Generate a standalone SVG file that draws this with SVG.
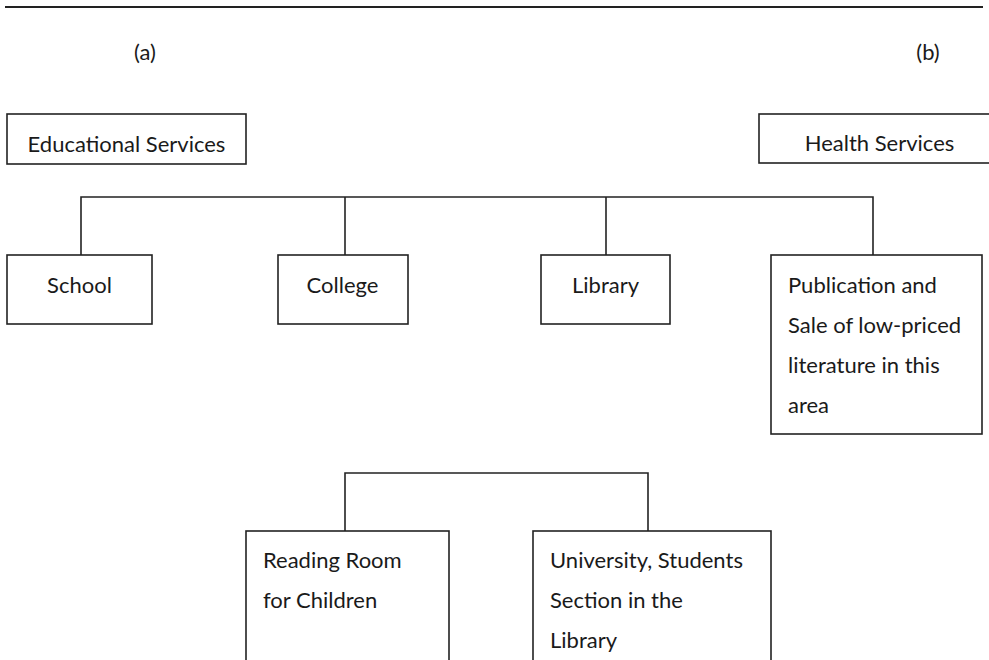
<svg xmlns="http://www.w3.org/2000/svg" width="989" height="660" viewBox="0 0 989 660">
<style>
  .box { fill: #ffffff; stroke: #222222; stroke-width: 1.6; }
  .conn { fill: none; stroke: #222222; stroke-width: 1.6; }
  text { font-family: Lato, "Open Sans", sans-serif; font-size: 22px; fill: #1a1a1a; }
  .c { text-anchor: middle; }
</style>
<rect width="989" height="660" fill="#ffffff"/>
<line x1="5" y1="7" x2="983" y2="7" stroke="#222222" stroke-width="2"/>
<text class="c" x="145" y="60">(a)</text>
<text class="c" x="928" y="60">(b)</text>

<g id="connectors">
  <polyline class="conn" points="81,255 81,197 873,197 873,255"/>
  <line class="conn" x1="345" y1="197" x2="345" y2="255"/>
  <line class="conn" x1="606" y1="197" x2="606" y2="255"/>
  <polyline class="conn" points="345,531 345,473 648,473 648,531"/>
</g>

<g id="educational-services">
  <rect class="box" x="7" y="114" width="239" height="50"/>
  <text class="c" x="126.5" y="152">Educational Services</text>
</g>
<g id="health-services">
  <rect class="box" x="759" y="114" width="240" height="49"/>
  <text class="c" x="879.5" y="151">Health Services</text>
</g>
<g id="school">
  <rect class="box" x="7" y="255" width="145" height="69"/>
  <text class="c" x="79.5" y="293">School</text>
</g>
<g id="college">
  <rect class="box" x="278" y="255" width="130" height="69"/>
  <text class="c" x="342.5" y="293">College</text>
</g>
<g id="library">
  <rect class="box" x="541" y="255" width="129" height="69"/>
  <text class="c" x="605.5" y="293">Library</text>
</g>
<g id="publication">
  <rect class="box" x="771" y="255" width="211" height="179"/>
  <text x="788" y="293">Publication and</text>
  <text x="788" y="333">Sale of low-priced</text>
  <text x="788" y="373">literature in this</text>
  <text x="788" y="413">area</text>
</g>
<g id="reading-room">
  <rect class="box" x="246" y="531" width="203" height="140"/>
  <text x="263" y="568">Reading Room</text>
  <text x="263" y="608">for Children</text>
</g>
<g id="university-section">
  <rect class="box" x="533" y="531" width="238" height="140"/>
  <text x="550" y="568">University, Students</text>
  <text x="550" y="608">Section in the</text>
  <text x="550" y="648">Library</text>
</g>
</svg>
